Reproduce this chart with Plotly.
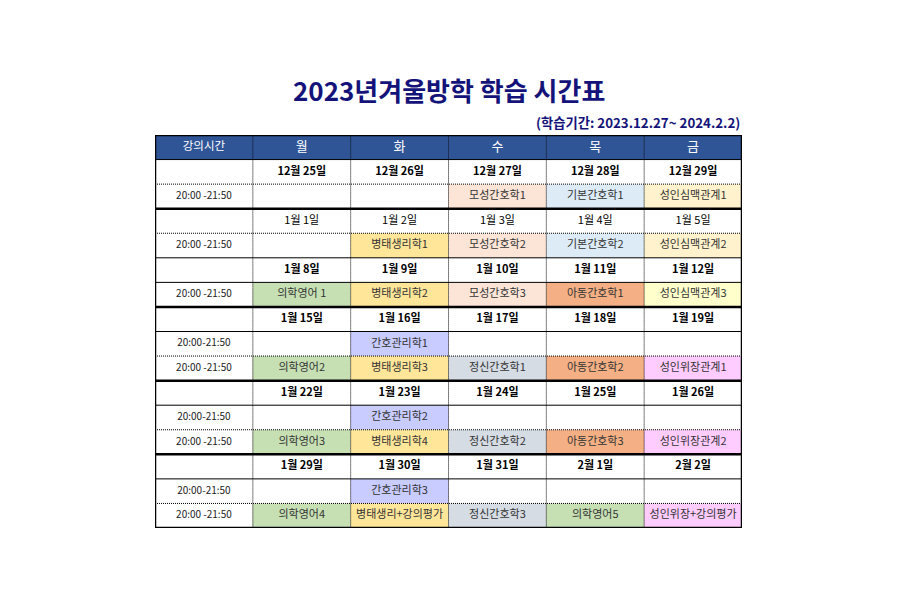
import plotly.graph_objects as go

# ---- data ----
title = "2023년겨울방학 학습 시간표"
period = "(학습기간: 2023.12.27~ 2024.2.2)"
header = ["강의시간", "월", "화", "수", "목", "금"]

week_dates = [
    ["12월 25일", "12월 26일", "12월 27일", "12월 28일", "12월 29일"],
    ["1월 1일", "1월 2일", "1월 3일", "1월 4일", "1월 5일"],
    ["1월 8일", "1월 9일", "1월 10일", "1월 11일", "1월 12일"],
    ["1월 15일", "1월 16일", "1월 17일", "1월 18일", "1월 19일"],
    ["1월 22일", "1월 23일", "1월 24일", "1월 25일", "1월 26일"],
    ["1월 29일", "1월 30일", "1월 31일", "2월 1일", "2월 2일"],
]

week_times = [
    ["20:00 -21:50"],
    ["20:00 -21:50"],
    ["20:00 -21:50"],
    ["20:00-21:50", "20:00 -21:50"],
    ["20:00-21:50", "20:00 -21:50"],
    ["20:00-21:50", "20:00 -21:50"],
]

week_classes = [
    [["", "", "모성간호학1", "기본간호학1", "성인심맥관계1"]],
    [["", "병태생리학1", "모성간호학2", "기본간호학2", "성인심맥관계2"]],
    [["의학영어 1", "병태생리학2", "모성간호학3", "아동간호학1", "성인심맥관계3"]],
    [["", "간호관리학1", "", "", ""],
     ["의학영어2", "병태생리학3", "정신간호학1", "아동간호학2", "성인위장관계1"]],
    [["", "간호관리학2", "", "", ""],
     ["의학영어3", "병태생리학4", "정신간호학2", "아동간호학3", "성인위장관계2"]],
    [["", "간호관리학3", "", "", ""],
     ["의학영어4", "병태생리+강의평가", "정신간호학3", "의학영어5", "성인위장+강의평가"]],
]

# ---- styles ----
FONT = "Noto Sans CJK KR"
HEADER_BG = "#2F5597"
course_colors = {
    "모성간호학": "#FCE4D6",
    "기본간호학": "#DDEBF7",
    "성인심맥관계": "#FFF2CC",
    "병태생리": "#FFE699",
    "의학영어": "#C6E0B4",
    "아동간호학": "#F4B084",
    "간호관리학": "#C9CCFF",
    "정신간호학": "#D6DCE4",
    "성인위장": "#FFCCFF",
}
course_override = {"성인심맥관계3": "#FFFFCC"}
date_bold = [True, False, True, True, True, True]
thick_top = [True, True, False, True, True, True]
dotted_below_date = [True, True, False, False, False, False]


def cell_color(name):
    if name in course_override:
        return course_override[name]
    for key, col in course_colors.items():
        if name.startswith(key):
            return col
    return None


# build the row list: (kind, week index, first column, five cells)
rows = []
for w, dates in enumerate(week_dates):
    rows.append(("date", w, "", dates))
    for t, cls in zip(week_times[w], week_classes[w]):
        rows.append(("time", w, t, cls))

n_rows = len(rows) + 1
n_cols = len(header)

xs, ys, texts, colors, sizes = [], [], [], [], []
shapes = []

# header
shapes.append(dict(type="rect", x0=0, x1=n_cols, y0=0, y1=1, fillcolor=HEADER_BG,
                   line=dict(width=0), layer="below"))
for c, h in enumerate(header):
    xs.append(c + 0.5)
    ys.append(0.5)
    texts.append(h)
    colors.append("white")
    sizes.append(11.5 if c == 0 else 13)

for r, (kind, w, first, cells) in enumerate(rows, start=1):
    if kind == "date":
        for c, d in enumerate(cells, start=1):
            xs.append(c + 0.5)
            ys.append(r + 0.5)
            texts.append(f"<b>{d}</b>" if date_bold[w] else d)
            colors.append("black")
            sizes.append(11)
    else:
        xs.append(0.5)
        ys.append(r + 0.5)
        texts.append(first)
        colors.append("#222222")
        sizes.append(10)
        for c, name in enumerate(cells, start=1):
            fill = cell_color(name)
            if fill:
                shapes.append(dict(type="rect", x0=c, x1=c + 1, y0=r, y1=r + 1,
                                   fillcolor=fill, line=dict(width=0), layer="below"))
            xs.append(c + 0.5)
            ys.append(r + 0.5)
            texts.append(name)
            colors.append("#333333")
            sizes.append(11)

# horizontal borders
for r in range(1, n_rows - 1):
    kind, w = rows[r][0], rows[r][1]
    prev_kind = rows[r - 1][0]
    if kind == "date":
        line = dict(color="black", width=2.5) if thick_top[w] else dict(color="black", width=1)
    elif prev_kind == "date" and not dotted_below_date[w]:
        line = dict(color="black", width=1)
    else:
        line = dict(color="black", width=1, dash="1px,1px")
    shapes.append(dict(type="line", x0=0, x1=n_cols, y0=r + 1, y1=r + 1, line=line))

shapes.append(dict(type="line", x0=0, x1=n_cols, y0=1, y1=1,
                   line=dict(color="black", width=1)))

# vertical borders
for c in range(1, n_cols):
    shapes.append(dict(type="line", x0=c, x1=c, y0=0, y1=1,
                       line=dict(color="#1F2F55", width=1)))
    shapes.append(dict(type="line", x0=c, x1=c, y0=1, y1=n_rows,
                       line=dict(color="black", width=1, dash="1px,1px")))

# outer frame
shapes.append(dict(type="rect", x0=0, x1=n_cols, y0=0, y1=n_rows,
                   line=dict(color="black", width=2.5)))

fig = go.Figure(go.Scatter(
    x=xs, y=ys, text=texts, mode="text",
    textfont=dict(family=FONT, color=colors, size=sizes),
    hoverinfo="skip", cliponaxis=False,
))

fig.update_layout(
    width=900, height=600,
    margin=dict(l=147, r=166, t=127, b=80),
    paper_bgcolor="white", plot_bgcolor="white",
    showlegend=False,
    shapes=shapes,
    xaxis=dict(range=[0, n_cols], visible=False, fixedrange=True),
    yaxis=dict(range=[n_rows, 0], visible=False, fixedrange=True),
    annotations=[
        dict(text=f"<b>{title}</b>", xref="paper", yref="paper", x=0.5, y=1.117,
             xanchor="center", yanchor="middle", showarrow=False,
             font=dict(family=FONT, size=26, color="#14137A")),
        dict(text=f"<b>{period}</b>", xref="paper", yref="paper", x=1.0, y=1.033,
             xanchor="right", yanchor="middle", showarrow=False,
             font=dict(family=FONT, size=13.3, color="#14137A")),
    ],
)

fig.write_html("out.html")
